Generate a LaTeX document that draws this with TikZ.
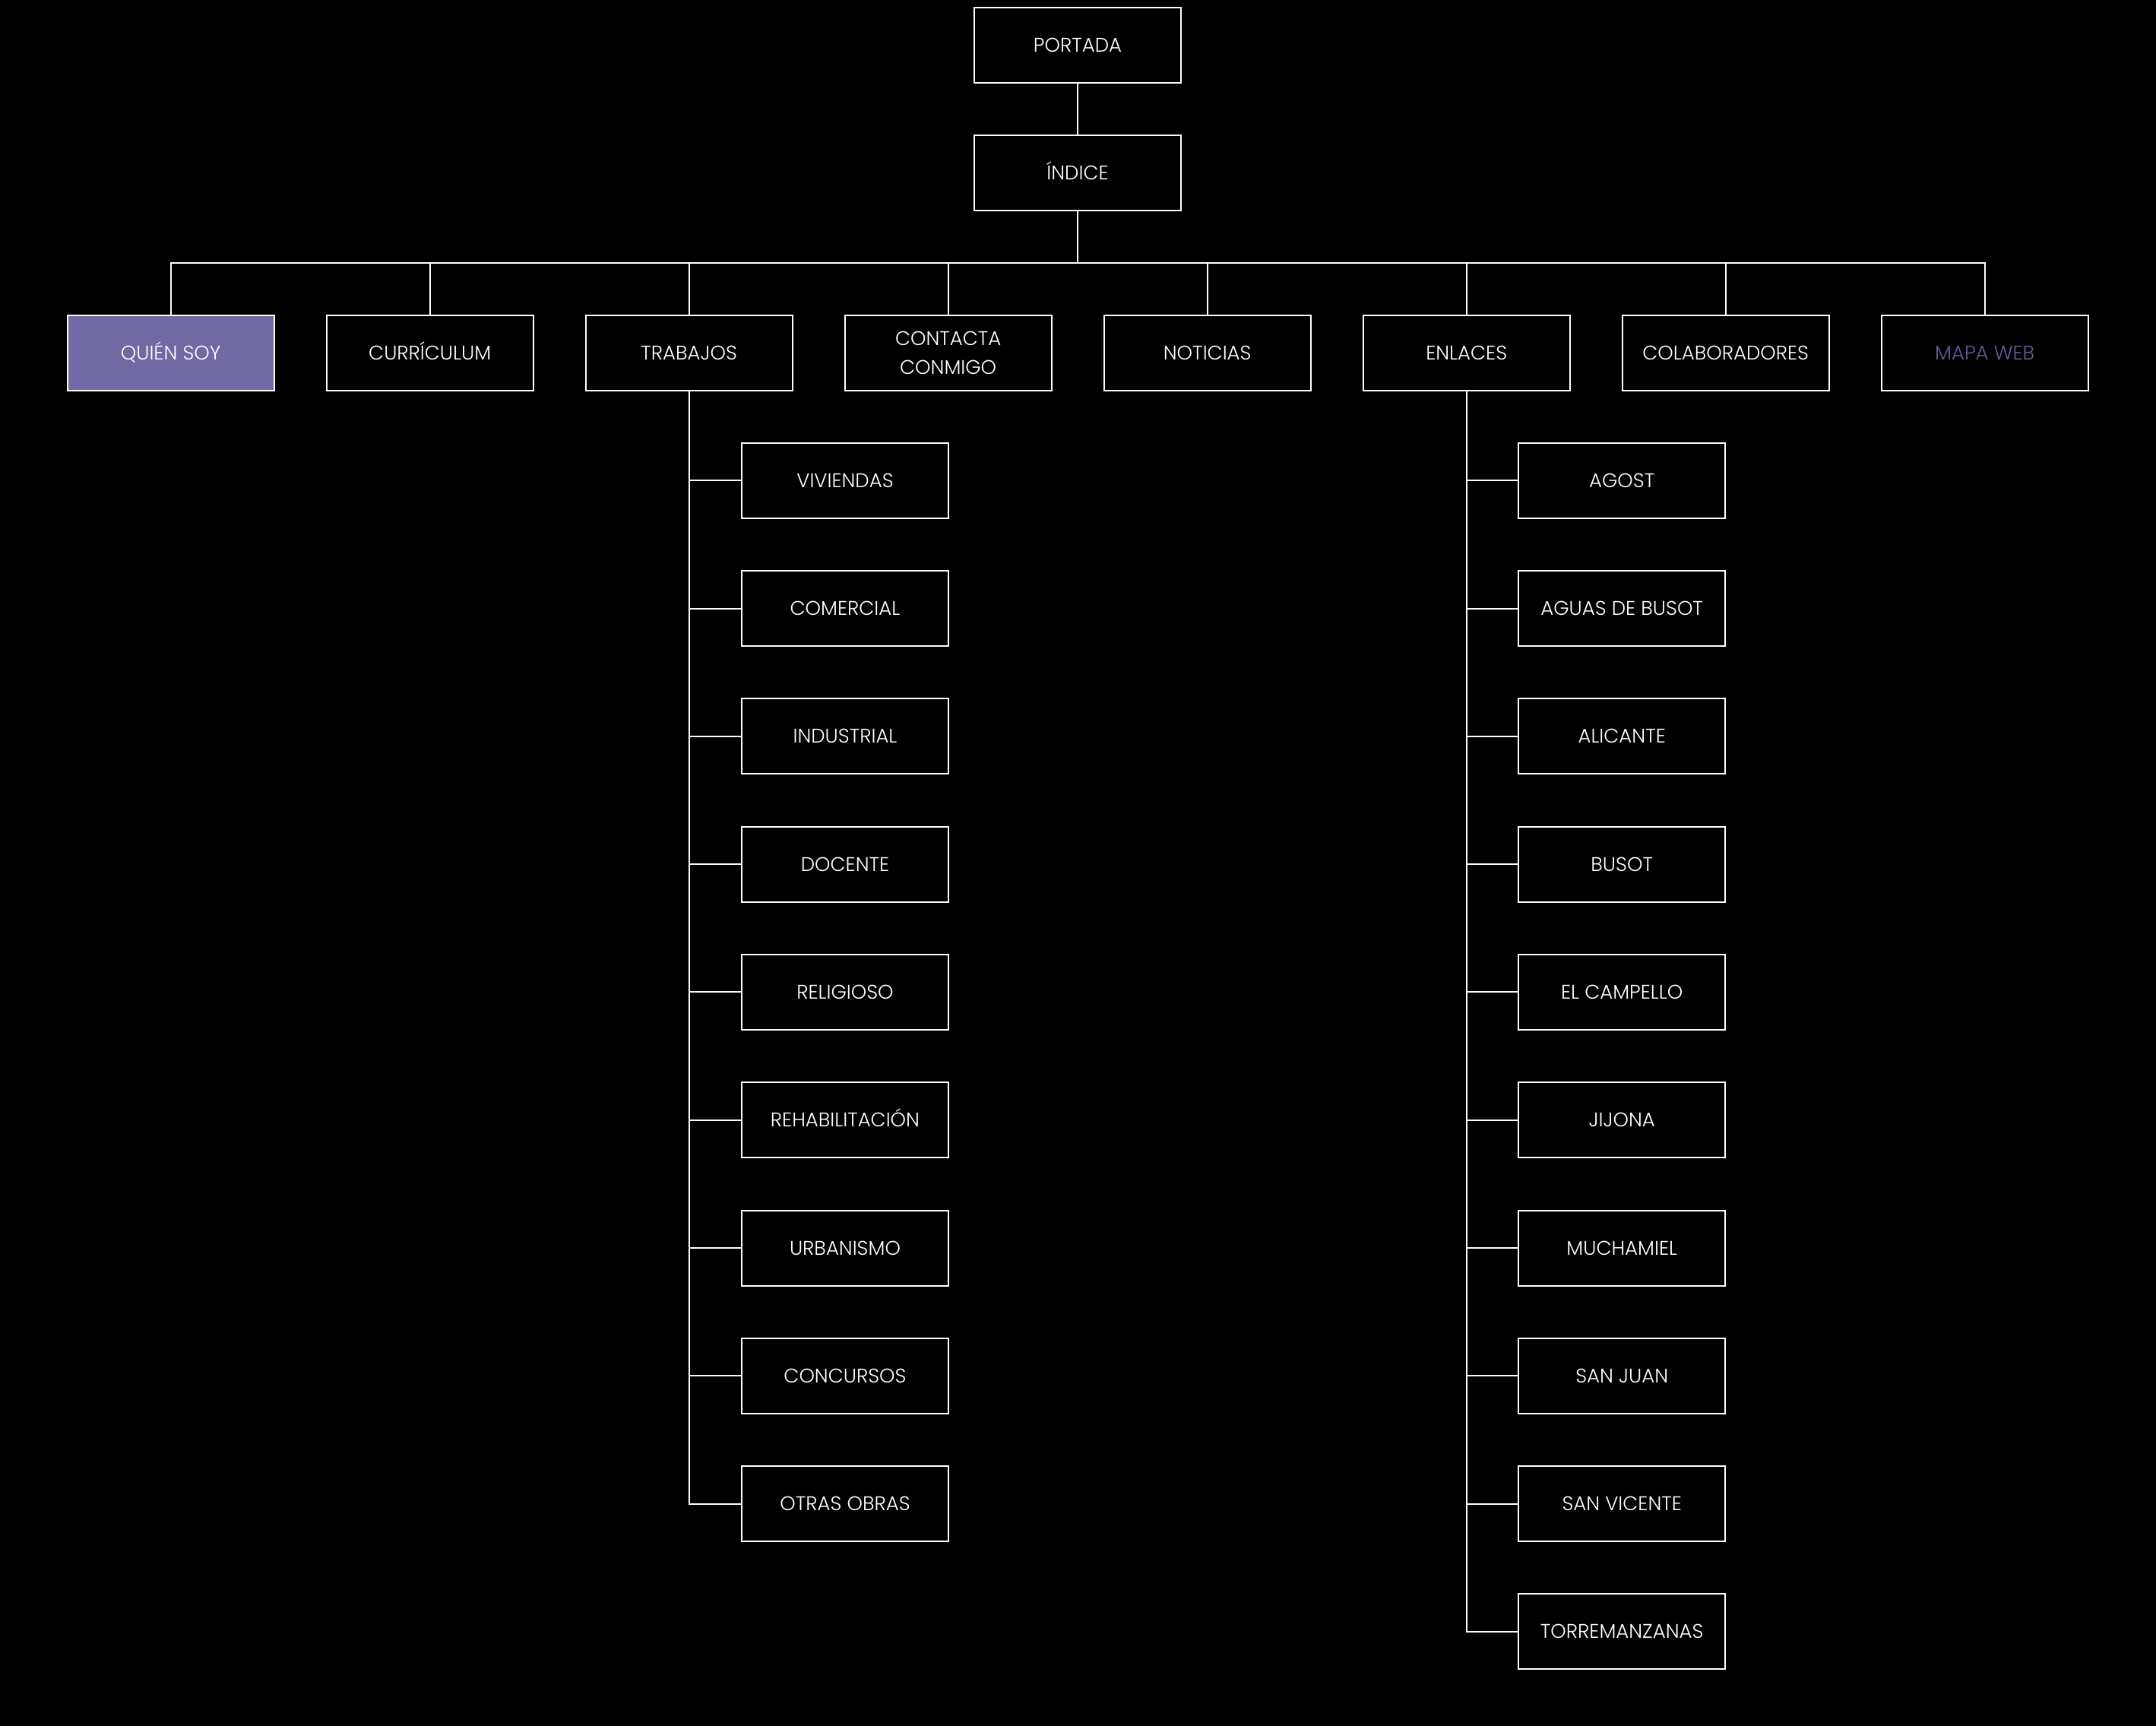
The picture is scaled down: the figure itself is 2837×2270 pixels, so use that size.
\documentclass[tikz,border=0pt]{standalone}
\usepackage{fontspec}
\setmainfont{Poppins}[UprightFont={* Light}]
\definecolor{lav}{RGB}{112,105,163}
\definecolor{lavtext}{RGB}{98,92,155}
\begin{document}
\begin{tikzpicture}[x=1pt,y=-1pt,
  box/.style={draw=white,line width=2pt,minimum width=272pt,minimum height=99pt,inner sep=0pt,
    text=white,font=\fontsize{26}{38}\selectfont,align=center,text height=18pt,text depth=0pt},
  link/.style={draw=white,line width=2pt}]
\useasboundingbox (0,0) rectangle (2837,2270);
\fill[black] (-10,-10) rectangle (2847,2280);
\node[box] (portada) at (1418,59.5) {PORTADA};
\node[box] (indice) at (1418,227.5) {ÍNDICE};
\draw[link] (portada) -- (indice);
% top row
\node[box,fill=lav] (quien) at (224.7,464.5) {QUIÉN SOY};
\node[box] (curri) at (565.7,464.5) {CURRÍCULUM};
\node[box] (trab) at (906.7,464.5) {TRABAJOS};
\node[box,text height=,text depth=] (cont) at (1247.7,464.5) {CONTACTA\\CONMIGO};
\node[box] (noti) at (1588.7,464.5) {NOTICIAS};
\node[box] (enl) at (1929.7,464.5) {ENLACES};
\node[box] (cola) at (2270.7,464.5) {COLABORADORES};
\node[box,text=lavtext] (mapa) at (2611.7,464.5) {MAPA WEB};
\coordinate (bar) at (1418,345.7);
\foreach \n in {quien,curri,trab,cont,noti,enl,cola,mapa}
  \draw[link] (indice.south) -- (bar) -| (\n.north);
% trabajos children
\foreach \t [count=\i from 0] in {VIVIENDAS,COMERCIAL,INDUSTRIAL,DOCENTE,RELIGIOSO,REHABILITACIÓN,URBANISMO,CONCURSOS,OTRAS OBRAS}{
  \node[box] (t\i) at (1112,632.2+\i*168.3) {\t};
  \draw[link] (trab.south) |- (t\i.west);
}
% enlaces children
\foreach \t [count=\i from 0] in {AGOST,AGUAS DE BUSOT,ALICANTE,BUSOT,EL CAMPELLO,JIJONA,MUCHAMIEL,SAN JUAN,SAN VICENTE,TORREMANZANAS}{
  \node[box] (e\i) at (2134.2,632.2+\i*168.3) {\t};
  \draw[link] (enl.south) |- (e\i.west);
}
\end{tikzpicture}
\end{document}
